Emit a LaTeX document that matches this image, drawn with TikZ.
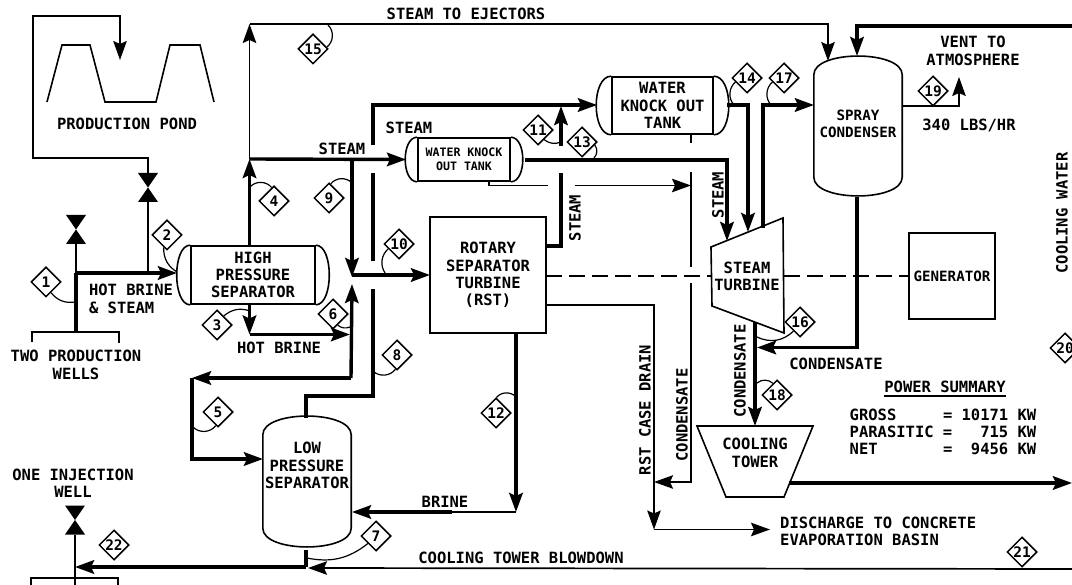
\documentclass[tikz,border=0pt]{standalone}
\usepackage{fontspec}
\setmainfont{DejaVu Sans Mono}
\usetikzlibrary{arrows.meta,positioning,calc,shapes.geometric}
\tikzset{
  wall/.style={line width=1.6pt},
  thinpipe/.style={line width=1.7pt},
  pipe/.style={line width=3.4pt},
  flow/.style={-{Stealth[length=19pt,width=13.5pt,inset=3pt]}},
  shaft/.style={line width=1.3pt,dash pattern=on 16pt off 7pt},
  leader/.style={line width=1.2pt},
  tag/.style={font=\bfseries\fontsize{15.5}{17.3}\selectfont,align=center,inner sep=0pt},
  tight/.style={font=\bfseries\fontsize{14.2}{17.3}\selectfont,align=center,inner sep=0pt},
  tiny tag/.style={font=\bfseries\fontsize{11.6}{14}\selectfont,align=center,inner sep=0pt},
  tankbox/.style={draw,wall,inner sep=0pt,minimum width=#1},
  domebox/.style={inner sep=0pt,minimum width=#1},
  numbered/.style={diamond,draw,line width=1.5pt,fill=white,minimum width=30pt,minimum height=30pt,
                   inner sep=0pt,font=\bfseries\fontsize{14.5}{15}\selectfont},
  valve/.style={minimum width=20pt,minimum height=29pt,inner sep=0pt,
                path picture={\fill (path picture bounding box.north west)
                  -- (path picture bounding box.south east)
                  -- (path picture bounding box.south west)
                  -- (path picture bounding box.north east) -- cycle;}}
}
\begin{document}
\begin{tikzpicture}[x=1pt,y=-1pt]
  \useasboundingbox (0,0) rectangle (1072,585);

  \node[tankbox=124pt,minimum height=58pt,tag] (hp) at (253,275) {HIGH\\PRESSURE\\SEPARATOR};
  \node[tankbox=92pt,minimum height=43pt,tiny tag] (smallko) at (464,159.5) {WATER KNOCK\\OUT TANK};
  \node[tankbox=101pt,minimum height=57pt,tag] (bigko) at (662.5,105.5) {WATER\\KNOCK OUT\\TANK};
  \node[draw,wall,minimum width=116pt,minimum height=116pt,inner sep=0pt,tag] (rst) at (488,275)
    {ROTARY\\SEPARATOR\\TURBINE\\(RST)};
  \node[draw,wall,minimum width=86pt,minimum height=86pt,inner sep=0pt,tight] (gen) at (952,276) {GENERATOR};
  \node[domebox=88pt,minimum height=93pt] (lp) at (307,481.5) {};
  \node[tag,anchor=north] (lptext) at (307,442) {LOW\\PRESSURE\\SEPARATOR};
  \node[domebox=88pt,minimum height=102pt] (spray) at (858,126) {};
  \node[tight] (spraytext) at (858,124) {SPRAY\\CONDENSER};

  \foreach \t/\b in {hp/18,smallko/16,bigko/20} {
    \draw[wall] (\t.north west) .. controls +(-\b,0) and +(-\b,0) .. (\t.south west);
    \draw[wall] (\t.north east) .. controls +(\b,0) and +(\b,0) .. (\t.south east);
  }
  \foreach \t/\b in {lp/25,spray/25} {
    \draw[wall] (\t.north west) -- (\t.south west)
      .. controls +(0,\b) and +(0,\b) .. (\t.south east) -- (\t.north east)
      .. controls +(0,-\b) and +(0,-\b) .. cycle;
  }

  \draw[wall] (711,247) coordinate (turbA) -- (783,218) coordinate (turbB)
    -- (784,333) coordinate (turbC) -- (712,306) coordinate (turbD) -- cycle;
  \node[tag] (turbtext) at (747,276.5) {STEAM\\TURBINE};
  \draw[wall] (697,426) coordinate (towerA) -- (813,426) coordinate (towerB)
    -- (784,497) coordinate (towerC) -- (726,497) coordinate (towerD) -- cycle;
  \node[tag] (towertext) at (755,453) {COOLING\\TOWER};

  \draw[wall] (47,102) -- (62,45) -- (90,45) -- (105,102) -- (156,102) -- (170,45) -- (200,45) -- (214,102);
  \node[tag] (pondtext) at (127,124) {PRODUCTION POND};

  \node[valve] (wellvalve) at (76,229.5) {};
  \node[valve] (pondvalve) at (148,187.5) {};
  \node[valve] (injvalve) at (75,520) {};

  \foreach \n/\x/\y in {wellsA/32/342,wellsB/119/343,wellsM/76/332,brineJ/76/273,pondJ/148/273,hpIn/177/273,
      pondA/148/158,pondB/33/158,pondC/33/16,pondD/120/16,pondIn/120/60,
      hpTop/249.5/246,steamJ/249.5/159,ejectC/249.5/24,ejectD/828/24,ejectIn/828/61,smallIn/406/159.5,
      nineJ/352/159.5,nineIn/352/277,upIn/352/284,tenJ/352/275,rstIn/430/275,
      hpBot/249.5/304,brineC/249.5/334.5,brineIn/350/334.5,fiveA/351/378,fiveB/192/378,fiveC/192/459,lpIn/263/459,
      bypA/373/145,bypB/373/105,bigIn/597/105,bypC/373/173,bypD/373/261,bypE/373/289,bypF/373/396,bypG/306/396,lpTop/306/418,
      rstOut/546/246,rstOutB/561/246,rstOutC/561/173,upA/561/146,upB/561/106,
      smallOut/525/160,smallOutB/727/160,turbIn/727/241,
      drainA/489/181,drainB/489/185.5,drainC/548/185.5,drainD/575/185.5,drainE/691/185.5,
      condA/691/134,condB/691/143,condC/691/172,condD/691/267,condE/691/283,condF/691/482,caseIn/654/482,
      caseA/546/305,caseB/654/305,caseC/654/529.5,basin/770/529.5,
      twelveA/516/333,twelveB/516/512,twelveC/452/512,lpBrine/352/512,
      lpBot/306/550,blowJ/306/567,injIn/75/567,blowEnd/1072/569,blowIn/308/568,injEnd/75/585,
      injA/31/585,injB/31/578,injC/118/578,injD/118/585,
      bigOut/727/105,bigOutB/748/105,turbInB/748/232,
      seventeenA/763/228,seventeenB/763/105,sprayIn/814/105,
      ventA/902/106,ventB/959/106,ventC/959/77,
      cwA/1072/26,cwB/857/26,cwIn/857/56,
      spBot/857/197,spBotB/857/347.5,spBack/757/347.5,
      turbOut/755/322,towerIn/755/426,towerOut/789/483,cwOut/1072/483,
      shaftA/546/276,shaftB/711/276,shaftC/784/276} {
    \coordinate (\n) at (\x,\y);
  }

  \draw[thinpipe] (wellsA) |- (wellsM) -| (wellsB);
  \draw[pipe] (wellsM) -- (brineJ);
  \draw[pipe,flow] (brineJ) -- (hpIn);
  \draw[thinpipe] (brineJ) -- (wellvalve.south);
  \draw[thinpipe] (pondJ) -- (pondvalve.south);
  \draw[thinpipe,flow] (pondvalve.north) -- (pondA) -- (pondB) -- (pondC) -- (pondD) -- (pondIn);

  \draw[pipe,flow] (hpTop) -- (steamJ);
  \draw[thinpipe,flow] (steamJ) -- (ejectC);
  \draw[thinpipe,flow] (ejectC) -- (ejectD) -- (ejectIn);
  \draw[pipe,flow] (steamJ) -- (smallIn);
  \draw[pipe,flow] (nineJ) -- (nineIn);
  \draw[pipe,flow] (tenJ) -- (rstIn);
  \draw[pipe,flow] (hpBot) -- (brineC);
  \draw[pipe,flow] (brineC) -- (brineIn);
  \draw[pipe,flow] (fiveA) -- (upIn);
  \draw[pipe,flow] (fiveA) -- (fiveB);
  \draw[pipe,flow] (fiveB) -- (fiveC) -- (lpIn);

  \draw[pipe,flow] (bypA) -- (bypB) -- (bigIn);
  \draw[pipe] (bypC) -- (bypD);
  \draw[pipe] (bypE) -- (bypF) -- (bypG) -- (lpTop);

  \draw[pipe] (rstOut) -- (rstOutB) -- (rstOutC);
  \draw[pipe,flow] (upA) -- (upB);
  \draw[pipe,flow] (smallOut) -- (smallOutB) -- (turbIn);
  \draw[thinpipe] (drainA) -- (drainB) -- (drainC);
  \draw[thinpipe,flow] (drainD) -- (drainE);
  \draw[thinpipe] (condA) -- (condB);
  \draw[thinpipe] (condC) -- (condD);
  \draw[thinpipe,flow] (condE) -- (condF) -- (caseIn);
  \draw[thinpipe,flow] (caseA) -- (caseB) -- (caseC);
  \draw[thinpipe,flow] (caseC) -- (basin);

  \draw[pipe,flow] (twelveA) -- (twelveB);
  \draw[thinpipe] (twelveB) -- (twelveC);
  \draw[pipe,flow] (twelveC) -- (lpBrine);
  \draw[pipe] (lpBot) -- (blowJ);
  \draw[pipe,flow] (blowJ) -- (injIn);
  \draw[thinpipe,flow] (blowEnd) -- (blowIn);
  \draw[thinpipe] (injvalve.south) -- (injEnd);
  \draw[thinpipe] (injA) -- (injB) -- (injC) -- (injD);

  \draw[pipe,flow] (bigOut) -- (bigOutB) -- (turbInB);
  \draw[pipe,flow] (seventeenA) -- (seventeenB) -- (sprayIn);
  \draw[thinpipe,flow] (ventA) -- (ventB) -- (ventC);
  \draw[pipe,flow] (cwA) -- (cwB) -- (cwIn);
  \draw[pipe,flow] (spBot) -- (spBotB) -- (spBack);
  \draw[pipe,flow] (turbOut) -- (towerIn);
  \draw[pipe,flow] (towerOut) -- (cwOut);

  \draw[shaft] (shaftA) -- (shaftB);
  \draw[shaft] (shaftC) -- (gen.west);

  \foreach \n/\x/\y in {1/46/282,2/167/235,3/217/325,4/274/201,5/218/412,6/333/314,7/376/536,8/397/355,
      9/329/198,10/399/244,11/538/130,12/496/413,13/582/142,14/747/78,15/313/49,16/800/322,17/784/78,
      18/777/395,19/933/91,20/1065/348,21/1022/552,22/114/545} {
    \node[numbered] (d\n) at (\x,\y) {\n};
  }
  \foreach \n/\x/\y/\b in {1/75/302/-30,2/177/272/-30,3/250/311/30,4/250/187/-50,5/193/427/50,6/350/327/-30,
      7/307/558/25,8/373/371/50,9/352/183/50,10/385/273/-40,11/561/142/-30,12/516/397/50,13/594/158/40,
      14/734/105/-45,15/328/25/-50,16/757/337/35,17/771/105/-45,18/757/383/-40} {
    \coordinate (lead\n) at (\x,\y);
    \draw[leader] (d\n) to[bend left=\b] (lead\n);
  }

  \node[tag] (steamtop) at (342,149) {STEAM};
  \node[tag,align=left] (hotmix) at (131,299) {HOT BRINE\\\& STEAM};
  \node[tag] (wellstext) at (76,365) {TWO PRODUCTION\\WELLS};
  \node[tag] (hotbrine) at (279,348) {HOT BRINE};
  \node[tag] (injtext) at (73,483) {ONE INJECTION\\WELL};
  \node[tag] (brinetext) at (445,502) {BRINE};
  \node[tag] (blowtext) at (521,558) {COOLING TOWER BLOWDOWN};
  \node[tag] (ejecttext) at (466,14) {STEAM TO EJECTORS};
  \node[tag] (steamko) at (409,128) {STEAM};
  \node[tag,rotate=90] (steamrst) at (575,218) {STEAM};
  \node[tag,rotate=90] (steamturb) at (718,195) {STEAM};
  \node[tag,rotate=90] (casetext) at (645,410) {RST CASE DRAIN};
  \node[tag,rotate=90] (condleft) at (682,415) {CONDENSATE};
  \node[tag,rotate=90] (condright) at (740,371) {CONDENSATE};
  \node[tag] (condback) at (836,364) {CONDENSATE};
  \node[tag] (venttext) at (973,51) {VENT TO\\ATMOSPHERE};
  \node[tag] (lbstext) at (969,125) {340 LBS/HR};
  \node[tag,rotate=90] (cwtext) at (1062,213) {COOLING WATER};
  \node[tag] (powerhead) at (945,387) {POWER SUMMARY};
  \draw[line width=1.4pt] ($(powerhead.south west)+(0,3)$) -- ($(powerhead.south east)+(0,3)$);
  \node[tag,align=left] (powertable) at (943,432)
    {GROSS~~~~~=~10171~KW\\PARASITIC~=~~~715~KW\\NET~~~~~~~=~~9456~KW};
  \node[tag,align=left,anchor=west] (basintext) at (780,531.5) {DISCHARGE TO CONCRETE\\EVAPORATION BASIN};
\end{tikzpicture}
\end{document}
